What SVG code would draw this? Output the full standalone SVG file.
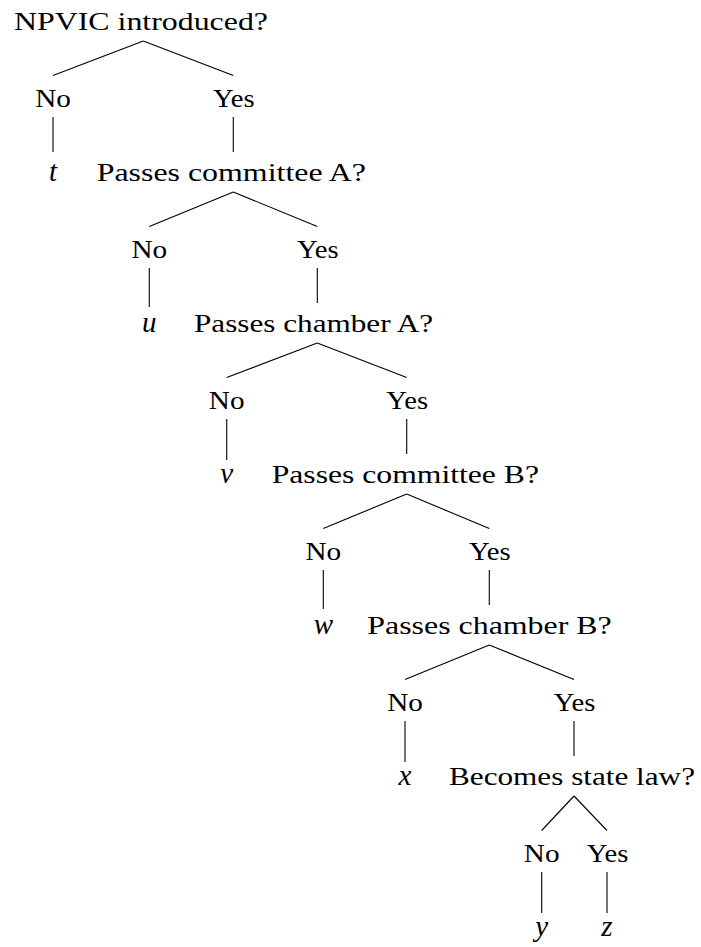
<svg xmlns="http://www.w3.org/2000/svg" width="701" height="947" viewBox="0 0 701 947">
<style>
text{font-family:"Liberation Serif","Times New Roman",serif;font-size:26px;fill:#000}
.q{text-anchor:start}
.c{text-anchor:middle}
.leaf{text-anchor:middle;font-style:italic;font-size:29px}
#edges line{stroke:#000;stroke-width:1.1;fill:none}
</style>
<rect width="701" height="947" fill="#fff"/>
<g id="edges">
<line x1="143.3" y1="41" x2="53" y2="75.5"/>
<line x1="143.3" y1="41" x2="233.3" y2="75.5"/>
<line x1="53" y1="117" x2="53" y2="152"/>
<line x1="233.3" y1="117" x2="233.3" y2="152"/>
<line x1="233.3" y1="192" x2="149.3" y2="226.5"/>
<line x1="233.3" y1="192" x2="317.3" y2="226.5"/>
<line x1="149.3" y1="268" x2="149.3" y2="307"/>
<line x1="317.3" y1="268" x2="317.3" y2="303"/>
<line x1="317.3" y1="343" x2="226.7" y2="377.5"/>
<line x1="317.3" y1="343" x2="406.7" y2="377.5"/>
<line x1="226.7" y1="419" x2="226.7" y2="460"/>
<line x1="406.7" y1="419" x2="406.7" y2="454"/>
<line x1="406.7" y1="494" x2="323.3" y2="528.5"/>
<line x1="406.7" y1="494" x2="489.3" y2="528.5"/>
<line x1="323.3" y1="570" x2="323.3" y2="609"/>
<line x1="489.3" y1="570" x2="489.3" y2="605"/>
<line x1="489.3" y1="645" x2="405" y2="679.5"/>
<line x1="489.3" y1="645" x2="574" y2="679.5"/>
<line x1="405" y1="721" x2="405" y2="762"/>
<line x1="574" y1="721" x2="574" y2="756"/>
<line x1="574" y1="796" x2="541.7" y2="830.5"/>
<line x1="574" y1="796" x2="607" y2="830.5"/>
<line x1="541.7" y1="872" x2="541.7" y2="913"/>
<line x1="607" y1="872" x2="607" y2="913"/>
</g>
<g id="q0"><text class="q" x="14" y="30" textLength="254" lengthAdjust="spacingAndGlyphs">NPVIC introduced?</text></g>
<g id="no0"><text class="c" x="53" y="106.5" textLength="35.7" lengthAdjust="spacingAndGlyphs">No</text></g>
<g id="yes0"><text class="c" x="233.8" y="106.5" textLength="41.7" lengthAdjust="spacingAndGlyphs">Yes</text></g>
<g id="leaf-t"><text class="leaf" x="53" y="181">t</text></g>
<g id="q1"><text class="q" x="96.7" y="181" textLength="269.3" lengthAdjust="spacingAndGlyphs">Passes committee A?</text></g>
<g id="no1"><text class="c" x="149.3" y="257.5" textLength="35.7" lengthAdjust="spacingAndGlyphs">No</text></g>
<g id="yes1"><text class="c" x="317.8" y="257.5" textLength="41.7" lengthAdjust="spacingAndGlyphs">Yes</text></g>
<g id="leaf-u"><text class="leaf" x="149.3" y="332">u</text></g>
<g id="q2"><text class="q" x="194" y="332" textLength="239" lengthAdjust="spacingAndGlyphs">Passes chamber A?</text></g>
<g id="no2"><text class="c" x="226.7" y="408.5" textLength="35.7" lengthAdjust="spacingAndGlyphs">No</text></g>
<g id="yes2"><text class="c" x="407.2" y="408.5" textLength="41.7" lengthAdjust="spacingAndGlyphs">Yes</text></g>
<g id="leaf-v"><text class="leaf" x="226.7" y="483">v</text></g>
<g id="q3"><text class="q" x="271.7" y="483" textLength="267.3" lengthAdjust="spacingAndGlyphs">Passes committee B?</text></g>
<g id="no3"><text class="c" x="323.3" y="559.5" textLength="35.7" lengthAdjust="spacingAndGlyphs">No</text></g>
<g id="yes3"><text class="c" x="489.8" y="559.5" textLength="41.7" lengthAdjust="spacingAndGlyphs">Yes</text></g>
<g id="leaf-w"><text class="leaf" x="323.3" y="634">w</text></g>
<g id="q4"><text class="q" x="367.3" y="634" textLength="244.4" lengthAdjust="spacingAndGlyphs">Passes chamber B?</text></g>
<g id="no4"><text class="c" x="405" y="710.5" textLength="35.7" lengthAdjust="spacingAndGlyphs">No</text></g>
<g id="yes4"><text class="c" x="574.5" y="710.5" textLength="41.7" lengthAdjust="spacingAndGlyphs">Yes</text></g>
<g id="leaf-x"><text class="leaf" x="405" y="785">x</text></g>
<g id="q5"><text class="q" x="449" y="785" textLength="246" lengthAdjust="spacingAndGlyphs">Becomes state law?</text></g>
<g id="no5"><text class="c" x="541.7" y="861.5" textLength="35.7" lengthAdjust="spacingAndGlyphs">No</text></g>
<g id="yes5"><text class="c" x="607.5" y="861.5" textLength="41.7" lengthAdjust="spacingAndGlyphs">Yes</text></g>
<g id="leaf-y"><text class="leaf" x="541.7" y="936">y</text></g>
<g id="leaf-z"><text class="leaf" x="607" y="936">z</text></g>
</svg>
